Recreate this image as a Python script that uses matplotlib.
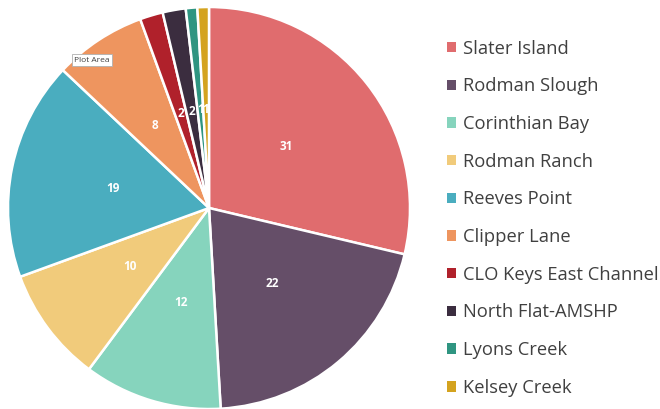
import matplotlib
matplotlib.use("Agg")
import matplotlib.pyplot as plt
from matplotlib.patches import Patch

plt.rcParams['font.family'] = ['Open Sans', 'DejaVu Sans']

categories = ["Slater Island", "Rodman Slough", "Corinthian Bay", "Rodman Ranch",
              "Reeves Point", "Clipper Lane", "CLO Keys East Channel",
              "North Flat-AMSHP", "Lyons Creek", "Kelsey Creek"]
values = [31, 22, 12, 10, 19, 8, 2, 2, 1, 1]
colors = ["#E06C6E", "#654E68", "#86D4BD", "#F1CB7B", "#4AADBF",
          "#EE955F", "#B0212B", "#3B2D3F", "#2F9581", "#D4A31F"]

W, H = 660, 409
fig = plt.figure(figsize=(W / 100, H / 100), dpi=100)
cx, cy, r = 209, 208, 201
ax = fig.add_axes([(cx - r) / W, (H - cy - r) / H, 2 * r / W, 2 * r / H])
wedges, texts = ax.pie(values, colors=colors, startangle=90, counterclock=False,
                       labels=[str(v) for v in values], labeldistance=0.49,
                       wedgeprops=dict(edgecolor="white", linewidth=1.8),
                       textprops=dict(color="white", fontsize=8.5, fontweight="bold"))
for t in texts:
    t.set_ha("center")
    t.set_va("center")
ax.set_xlim(-1, 1)
ax.set_ylim(-1, 1)
ax.set_aspect("equal")
ax.axis("off")

# tooltip artifact
fig.text(92 / W, 1 - 60 / H, "Plot Area", fontsize=6, color="#404040",
         ha="center", va="center",
         bbox=dict(boxstyle="square,pad=0.25", fc="white", ec="#B0B0B0", lw=0.6))

handles = [Patch(facecolor=c, edgecolor="none") for c in colors]
leg = fig.legend(handles, categories, loc="upper left",
                 bbox_to_anchor=(447 / W, 1 - 39.5 / H), frameon=False,
                 fontsize=13.2, labelcolor="#404040",
                 handlelength=0.49, handleheight=0.49, handletextpad=0.38,
                 labelspacing=1.075, borderaxespad=0, borderpad=0)

fig.savefig("out.png", dpi=100)
